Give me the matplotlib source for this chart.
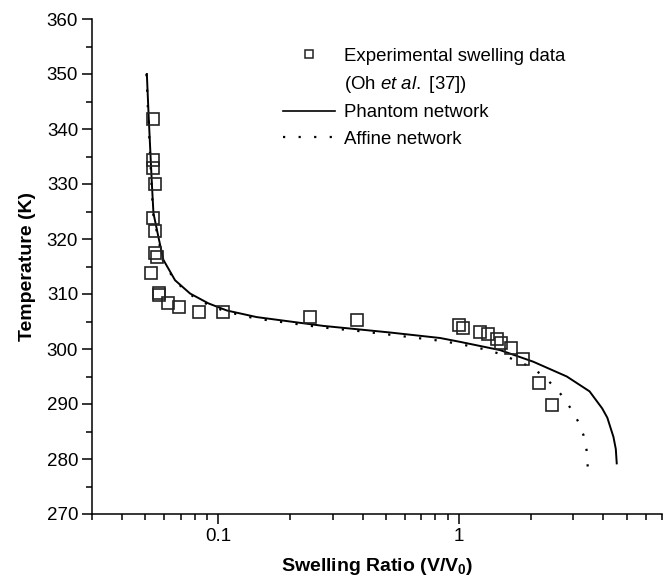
import matplotlib
matplotlib.use("Agg")
import matplotlib.pyplot as plt
from matplotlib.ticker import LogLocator, MultipleLocator, FixedLocator, FixedFormatter, NullFormatter
from matplotlib.lines import Line2D

# experimental swelling data (Oh et al. [37])
exp_ratio = [0.0540, 0.0540, 0.0540, 0.0548, 0.0540, 0.0550, 0.0550, 0.0559, 0.0529,
             0.0568, 0.0568, 0.0619, 0.0688, 0.0838, 0.1054, 0.2415, 0.3787,
             1.005, 1.044, 1.228, 1.326, 1.445, 1.502, 1.652, 1.853, 2.160, 2.446]
exp_temp = [341.9, 334.4, 332.9, 330.0, 323.8, 321.5, 317.5, 316.8, 313.9,
            310.2, 309.8, 308.4, 307.7, 306.8, 306.8, 305.8, 305.3,
            304.4, 303.8, 303.1, 302.7, 301.8, 301.1, 300.2, 298.2, 293.8, 289.8]

# phantom network model
phantom_ratio = [0.0507, 0.0515, 0.0523, 0.0532, 0.0540, 0.0566, 0.0594, 0.0664, 0.0766,
                 0.0913, 0.109, 0.145, 0.1995, 0.274, 0.378, 0.519, 0.838, 1.014,
                 1.487, 2.04, 2.816, 3.50, 3.95, 4.15, 4.40, 4.50, 4.54]
phantom_temp = [350.0, 343.0, 336.8, 330.0, 324.7, 320.4, 316.2, 312.5, 310.1,
                308.3, 307.0, 305.8, 305.0, 304.2, 303.6, 303.0, 302.0, 301.3,
                299.8, 297.7, 295.0, 292.3, 289.2, 287.5, 284.0, 281.8, 279.2]

# affine network model
affine_ratio = [0.0505, 0.0513, 0.0521, 0.0530, 0.0538, 0.0563, 0.0590, 0.0660, 0.0760,
                0.0905, 0.108, 0.145, 0.1995, 0.274, 0.378, 0.519, 0.838, 1.014,
                1.33, 1.53, 1.98, 2.22, 2.52, 2.75, 2.95, 3.15, 3.30, 3.40, 3.44]
affine_temp = [350.0, 343.0, 336.8, 330.0, 324.7, 320.4, 316.2, 312.5, 310.0,
               308.1, 306.8, 305.5, 304.7, 303.9, 303.3, 302.6, 301.5, 300.9,
               299.8, 298.9, 296.8, 295.3, 293.0, 291.0, 288.9, 286.7, 284.4, 281.7, 278.6]

plt.rcParams["font.family"] = ["Liberation Sans", "DejaVu Sans"]
plt.rcParams["mathtext.fontset"] = "custom"
plt.rcParams["mathtext.rm"] = "Liberation Sans"
plt.rcParams["mathtext.it"] = "Liberation Sans:italic"
plt.rcParams["mathtext.bf"] = "Liberation Sans:bold"

fig = plt.figure(figsize=(6.71, 5.81), dpi=100)
ax = fig.add_axes([92 / 671, 67 / 581, 570 / 671, 495 / 581])

ax.plot(phantom_ratio, phantom_temp, color="black", lw=1.4, label="Phantom network")
ax.plot(affine_ratio, affine_temp, color="black", lw=1.6, linestyle=(0, (1, 6)),
        label="Affine network")
ax.plot(exp_ratio, exp_temp, linestyle="none", marker="s", markersize=8,
        markerfacecolor="none", markeredgecolor="#222222", markeredgewidth=1.2)

ax.set_xscale("log")
ax.set_xlim(0.03, 7)
ax.set_ylim(270, 360)

ax.xaxis.set_major_locator(FixedLocator([0.1, 1]))
ax.xaxis.set_major_formatter(FixedFormatter(["0.1", "1"]))
ax.xaxis.set_minor_locator(LogLocator(base=10, subs=range(2, 10)))
ax.xaxis.set_minor_formatter(NullFormatter())
ax.yaxis.set_major_locator(MultipleLocator(10))
ax.yaxis.set_minor_locator(MultipleLocator(5))

for side in ["top", "right"]:
    ax.spines[side].set_visible(False)
for side in ["left", "bottom"]:
    ax.spines[side].set_linewidth(1.1)

ax.tick_params(which="major", direction="out", length=7, width=1.1, labelsize=13.5, pad=3)
ax.tick_params(which="minor", direction="out", length=4, width=1.1)

ax.set_xlabel("Swelling Ratio (V/V$_\\mathbf{0}$)", fontsize=14, fontweight="bold", labelpad=8)
ax.set_ylabel("Temperature (K)", fontsize=14, fontweight="bold", labelpad=8)

handles = [
    Line2D([], [], linestyle="none", marker="s", markersize=6, markerfacecolor="none",
           markeredgecolor="#222222", markeredgewidth=1.1),
    Line2D([], [], linestyle="none"),
    Line2D([], [], color="black", lw=1.2),
    Line2D([], [], color="black", lw=1.6, linestyle=(0, (1, 6))),
]
labels = ["Experimental swelling data", "(Oh $\\mathit{et\\ al.}$ [37])",
          "Phantom network", "Affine network"]
ax.legend(handles, labels, loc="upper left", bbox_to_anchor=(0.335, 0.942), frameon=False,
          fontsize=13.4, handlelength=2.8, handletextpad=0.5, labelspacing=0.5,
          borderpad=0, borderaxespad=0)

fig.savefig("out.png", dpi=100)
